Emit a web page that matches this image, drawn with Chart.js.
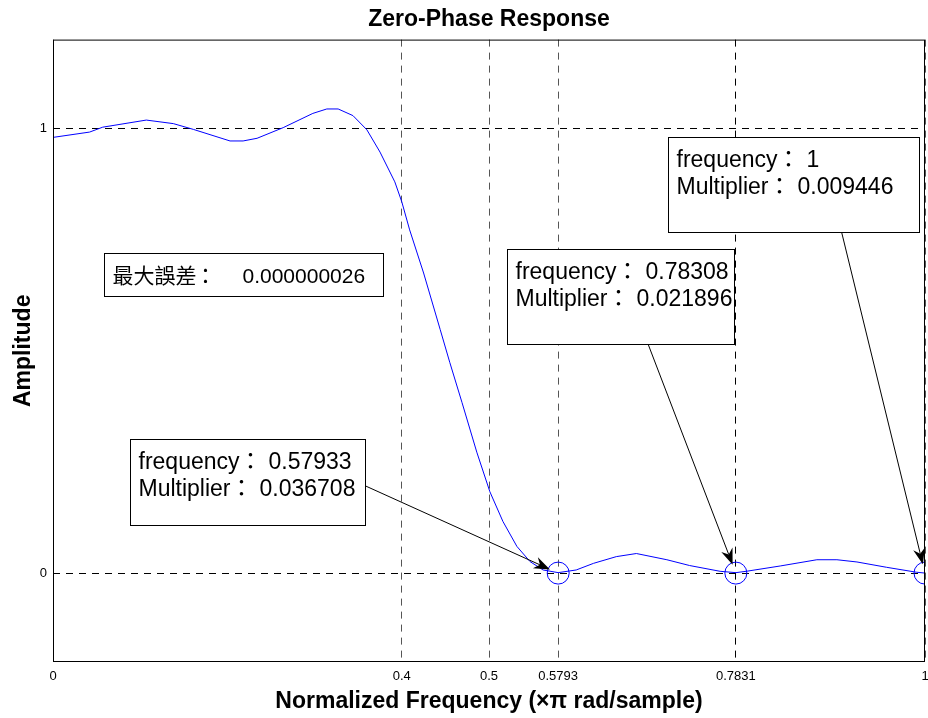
<!DOCTYPE html>
<html>
<head>
<meta charset="utf-8">
<style>
  html, body { margin: 0; padding: 0; background: #fff; }
  #wrap { width: 928px; height: 718px; }
</style>
<script src="https://cdn.jsdelivr.net/npm/chart.js@4.4.0/dist/chart.umd.min.js"></script>
</head>
<body>
<div id="wrap"><canvas id="chart" width="928" height="718"></canvas></div>
<script>
// zero-phase response
const freq = [0, 0.042, 0.057, 0.107, 0.138, 0.161, 0.203, 0.218, 0.234, 0.264, 0.298, 0.314, 0.327,
  0.344, 0.360, 0.375, 0.392, 0.400, 0.409, 0.425, 0.444, 0.455, 0.469, 0.486, 0.501, 0.516, 0.532,
  0.547, 0.562, 0.5793, 0.600, 0.620, 0.646, 0.669, 0.704, 0.730, 0.765, 0.7831, 0.795, 0.834, 0.876,
  0.899, 0.922, 0.956, 0.990, 1];
const amp = [0.980, 0.992, 1.003, 1.019, 1.011, 0.998, 0.972, 0.972, 0.978, 1.002, 1.034, 1.044, 1.044,
  1.029, 0.997, 0.947, 0.880, 0.835, 0.772, 0.675, 0.548, 0.474, 0.384, 0.272, 0.183, 0.116, 0.060,
  0.026, 0.007, 0.001, 0.007, 0.022, 0.037, 0.044, 0.030, 0.017, 0.004, 0.001, 0.004, 0.016, 0.030,
  0.030, 0.025, 0.013, 0.002, 0];

// marked extrema
const markerFreq = [0.57933, 0.78308, 1];
const markerAmp = [0, 0, 0];
const multiplier = ['0.036708', '0.021896', '0.009446'];
const maxError = '0.000000026';

const xTicks = [0, 0.4, 0.5, 0.5793, 0.7831, 1];
const yTicks = [0, 1];

const TXT = '"Liberation Sans", Arial, Helvetica, "Noto Sans CJK TC", sans-serif';

// text boxes (data coords) and which marker the arrow points at
const notes = [
  { x0: 0.0585, x1: 0.3784, y0: 0.7204, y1: 0.6242, size: 21, colon: 9, gap: 46, lines: [['最大誤差', maxError]] },
  { x0: 0.0883, x1: 0.3578, y0: 0.3020, y1: 0.1074, size: 23, colon: 11, gap: 29, m: 0, tail: 'right', tailY: 0.54 },
  { x0: 0.5206, x1: 0.7810, y0: 0.7293, y1: 0.5145, size: 23, colon: 11, gap: 29, m: 1, tail: 'bottom', tailX: 0.62 },
  { x0: 0.7053, x1: 0.9931, y0: 0.9799, y1: 0.7673, size: 23, colon: 11, gap: 29, m: 2, tail: 'bottom', tailX: 0.69 }
];
notes.forEach(n => {
  if (n.m !== undefined) {
    n.lines = [['frequency', String(markerFreq[n.m])], ['Multiplier', multiplier[n.m]]];
  }
});

const frame = {
  id: 'frame',
  afterDatasetsDraw(chart) {
    const { ctx, chartArea: a, scales: { x, y } } = chart;
    ctx.save();
    ctx.strokeStyle = '#000';
    ctx.lineWidth = 1;
    ctx.strokeRect(a.left + 0.5, a.top + 0.5, a.right - a.left - 1, a.bottom - a.top - 1);

    notes.forEach(n => {
      const L = Math.round(x.getPixelForValue(n.x0)) + 0.5;
      const R = Math.round(x.getPixelForValue(n.x1)) + 0.5;
      const T = Math.round(y.getPixelForValue(n.y0)) + 0.5;
      const B = Math.round(y.getPixelForValue(n.y1)) + 0.5;

      if (n.m !== undefined) {
        const px = x.getPixelForValue(markerFreq[n.m]);
        const py = y.getPixelForValue(markerAmp[n.m]);
        let tx, ty;
        if (n.tail === 'right') { tx = R; ty = T + (B - T) * n.tailY; }
        else { tx = L + (R - L) * n.tailX; ty = B; }
        const dx = px - tx, dy = py - ty, d = Math.hypot(dx, dy);
        const ux = dx / d, uy = dy / d;
        const hx = px - ux * 9, hy = py - uy * 9;
        const len = 16, w = 6;
        const bx = hx - ux * len, by = hy - uy * len;
        ctx.strokeStyle = '#000';
        ctx.beginPath();
        ctx.moveTo(tx, ty);
        ctx.lineTo(bx + ux * 5, by + uy * 5);
        ctx.stroke();
        ctx.fillStyle = '#000';
        ctx.beginPath();
        ctx.moveTo(hx, hy);
        ctx.lineTo(bx - uy * w, by + ux * w);
        ctx.lineTo(bx + ux * 5, by + uy * 5);
        ctx.lineTo(bx + uy * w, by - ux * w);
        ctx.closePath();
        ctx.fill();
      }

      ctx.fillStyle = '#fff';
      ctx.fillRect(L, T, R - L, B - T);
      ctx.strokeStyle = '#000';
      ctx.strokeRect(L, T, R - L, B - T);
      ctx.fillStyle = '#000';
      ctx.font = n.size + 'px ' + TXT;
      ctx.textBaseline = 'alphabetic';
      n.lines.forEach((parts, i) => {
        const by = T + 29 + i * 27;
        let cx = L + 8;
        ctx.textAlign = 'left';
        ctx.fillText(parts[0], cx, by);
        cx += ctx.measureText(parts[0]).width;
        ctx.textAlign = 'center';
        ctx.fillText('：', cx + n.colon, by);
        ctx.textAlign = 'left';
        ctx.fillText(parts[1], cx + n.gap, by);
      });
    });
    ctx.restore();
  }
};

new Chart(document.getElementById('chart'), {
  type: 'scatter',
  data: {
    datasets: [{
      data: freq.map((f, i) => ({ x: f, y: amp[i] })),
      showLine: true,
      borderColor: '#0000ff',
      borderWidth: 1,
      pointRadius: 0,
      tension: 0
    }, {
      data: markerFreq.map((f, i) => ({ x: f, y: markerAmp[i] })),
      showLine: false,
      pointRadius: 11,
      pointBorderColor: '#0000ff',
      pointBackgroundColor: 'rgba(0,0,0,0)',
      pointBorderWidth: 1
    }]
  },
  options: {
    responsive: false,
    animation: false,
    devicePixelRatio: 1,
    layout: { autoPadding: false, padding: { top: 0, right: 3, bottom: 0, left: 0 } },
    plugins: {
      legend: { display: false },
      tooltip: { enabled: false },
      title: {
        display: true,
        fullSize: false,
        text: 'Zero-Phase Response',
        color: '#000',
        font: { family: TXT, size: 23, weight: 'bold' },
        padding: { top: 6, bottom: 6 }
      }
    },
    scales: {
      x: {
        type: 'linear',
        min: 0, max: 1,
        afterBuildTicks: s => { s.ticks = xTicks.map(v => ({ value: v })); },
        afterFit: s => { s.height = 56; s.paddingLeft = 0; s.paddingRight = 0; },
        ticks: {
          autoSkip: false, maxRotation: 0, padding: 7,
          color: '#000', font: { family: TXT, size: 13 },
          callback: v => String(v)
        },
        grid: {
          drawTicks: false,
          color: c => (c.tick && c.tick.value === 0.7831) ? '#000' : '#555',
          lineWidth: 1
        },
        border: { display: false, dash: [7, 6] },
        title: {
          display: true,
          text: 'Normalized Frequency (×π rad/sample)',
          color: '#000',
          font: { family: TXT, size: 23, weight: 'bold' },
          padding: { top: 0, bottom: 3 }
        }
      },
      y: {
        type: 'linear',
        min: -0.2, max: 1.2,
        afterBuildTicks: s => { s.ticks = yTicks.map(v => ({ value: v })); },
        afterFit: s => { s.width = 53; s.paddingTop = 0; s.paddingBottom = 0; },
        ticks: {
          padding: 6,
          color: '#000', font: { family: TXT, size: 13 },
          callback: v => String(v)
        },
        grid: { drawTicks: false, color: '#000', lineWidth: 1 },
        border: { display: false, dash: [7, 6] },
        title: {
          display: true,
          text: 'Amplitude',
          color: '#000',
          font: { family: TXT, size: 23, weight: 'bold' },
          padding: { top: 10, bottom: 0 }
        }
      }
    }
  },
  plugins: [frame]
});
</script>
</body>
</html>
